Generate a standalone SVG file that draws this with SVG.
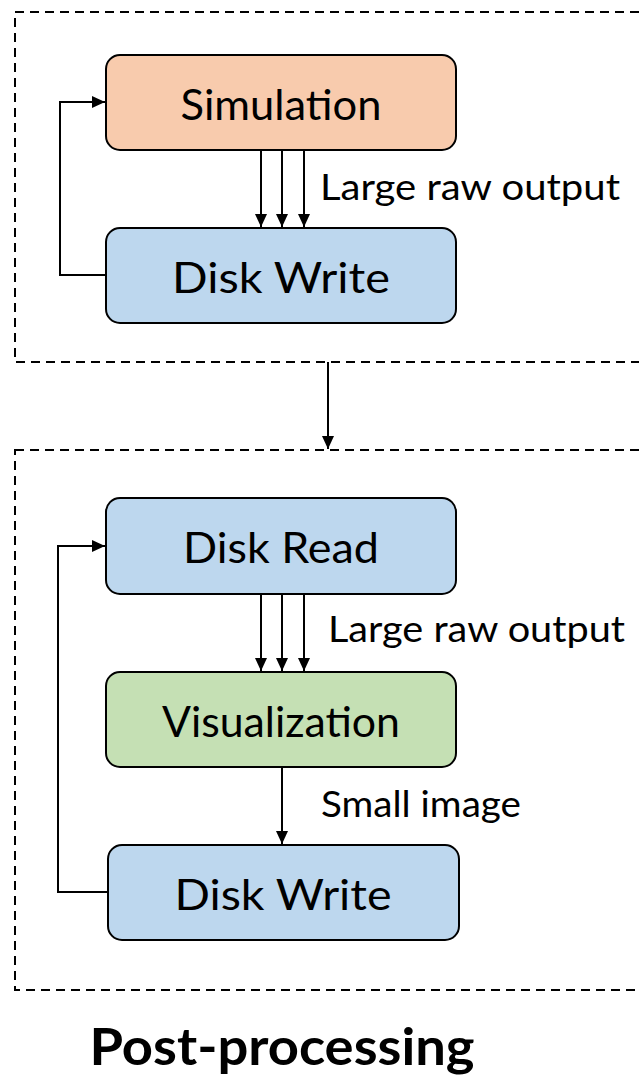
<svg xmlns="http://www.w3.org/2000/svg" width="639" height="1077" viewBox="0 0 639 1077">
<style>
.box{stroke:#000;stroke-width:2}
.t{font-family:Lato,"Open Sans",sans-serif;font-size:43px;fill:#000;text-anchor:middle}
.l{font-family:Lato,"Open Sans",sans-serif;font-size:36px;fill:#000}
.c{fill:none;stroke:#000;stroke-width:2}
.d{fill:none;stroke:#000;stroke-width:2;stroke-dasharray:9 6}
</style>
<defs>
<marker id="a" markerWidth="13" markerHeight="12" refX="13" refY="6" orient="auto" markerUnits="userSpaceOnUse"><path d="M0,0 L13,6 L0,12 z" fill="#000"/></marker>
</defs>
<g id="group-top"><rect class="d" x="15" y="12" width="640" height="350"/></g>
<g id="group-bottom"><rect class="d" x="15" y="450" width="640" height="540"/></g>
<g id="connectors">
<line class="c" x1="261" y1="151" x2="261" y2="227" marker-end="url(#a)"/>
<line class="c" x1="282" y1="151" x2="282" y2="227" marker-end="url(#a)"/>
<line class="c" x1="304" y1="151" x2="304" y2="227" marker-end="url(#a)"/>
<polyline class="c" points="106,275 60,275 60,102 105,102" marker-end="url(#a)"/>
<line class="c" x1="328" y1="362" x2="328" y2="449" marker-end="url(#a)"/>
<line class="c" x1="261" y1="595" x2="261" y2="671" marker-end="url(#a)"/>
<line class="c" x1="282" y1="595" x2="282" y2="671" marker-end="url(#a)"/>
<line class="c" x1="304" y1="595" x2="304" y2="671" marker-end="url(#a)"/>
<line class="c" x1="282" y1="768" x2="282" y2="844" marker-end="url(#a)"/>
<polyline class="c" points="108,892 58,892 58,546 105,546" marker-end="url(#a)"/>
<text class="l" x="320" y="200" textLength="300" lengthAdjust="spacingAndGlyphs">Large raw output</text>
<text class="l" x="328" y="642" textLength="297" lengthAdjust="spacingAndGlyphs">Large raw output</text>
<text class="l" x="321" y="817" textLength="200" lengthAdjust="spacingAndGlyphs">Small image</text>
</g>
<g id="simulation"><rect class="box" x="106" y="55" width="350" height="95" rx="14" fill="#F8CBAD"/><text class="t" x="281" y="120" textLength="201" lengthAdjust="spacingAndGlyphs">Simulation</text></g>
<g id="disk-write-1"><rect class="box" x="106" y="228" width="350" height="95" rx="14" fill="#BDD7EE"/><text class="t" x="281" y="293" textLength="218" lengthAdjust="spacingAndGlyphs">Disk Write</text></g>
<g id="disk-read"><rect class="box" x="106" y="498" width="350" height="96" rx="14" fill="#BDD7EE"/><text class="t" x="281" y="563" textLength="196" lengthAdjust="spacingAndGlyphs">Disk Read</text></g>
<g id="visualization"><rect class="box" x="106" y="672" width="350" height="95" rx="14" fill="#C5E0B4"/><text class="t" x="281" y="737" textLength="238" lengthAdjust="spacingAndGlyphs">Visualization</text></g>
<g id="disk-write-2"><rect class="box" x="108" y="845" width="351" height="95" rx="14" fill="#BDD7EE"/><text class="t" x="283" y="910" textLength="217" lengthAdjust="spacingAndGlyphs">Disk Write</text></g>
<g id="caption"><text x="282" y="1065" font-family="Lato,'Open Sans',sans-serif" font-size="51" font-weight="bold" text-anchor="middle" textLength="385" lengthAdjust="spacingAndGlyphs">Post-processing</text></g>
</svg>
